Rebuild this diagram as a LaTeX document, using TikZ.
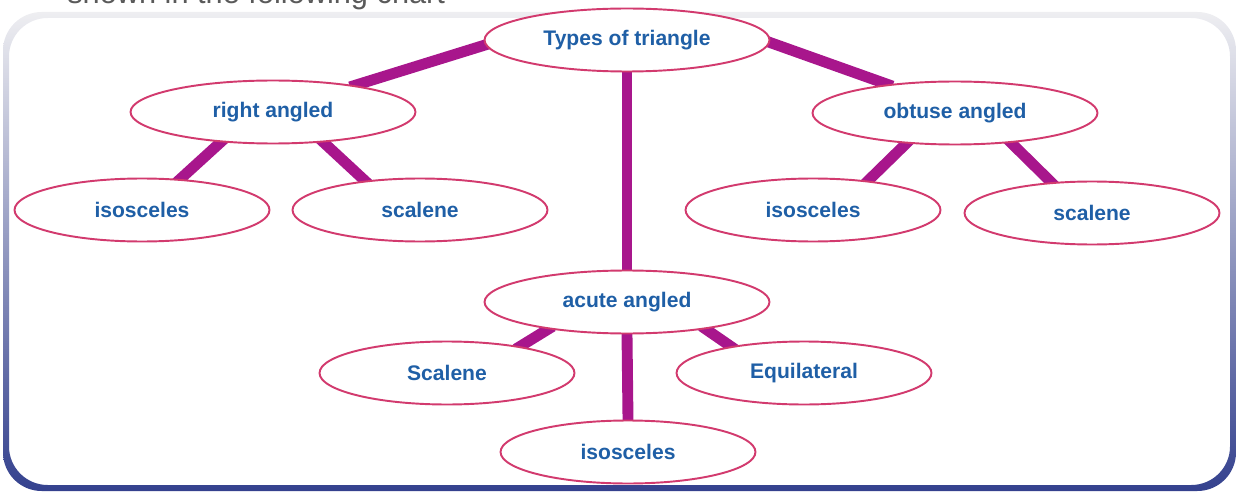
\documentclass[tikz,border=0pt]{standalone}
\usepackage{fontspec}
\setmainfont{Liberation Sans}
\usetikzlibrary{shapes.geometric,backgrounds}
\definecolor{trblue}{HTML}{1F5FA6}
\definecolor{trpink}{HTML}{D23A6E}
\definecolor{trlink}{HTML}{A8168C}
\definecolor{trgrey}{HTML}{EEEEF1}
\definecolor{trlav}{HTML}{BDBBD8}
\definecolor{trnavy}{HTML}{34418E}
\definecolor{trhead}{HTML}{5A5A5A}
\tikzset{
  oval/.style={ellipse, draw=trpink, fill=white, line width=1.1pt, text=trblue,
               font=\fontsize{12}{14}\selectfont\bfseries, inner sep=1pt},
  big/.style={oval, minimum width=5.7cm, minimum height=1.26cm},
  small/.style={oval, minimum width=5.1cm, minimum height=1.26cm},
  link/.style={draw=trlink, line width=6.2pt, shorten <=-3pt, shorten >=-3pt},
}

\begin{document}
\begin{tikzpicture}[x=0.02cm, y=-0.02cm]
  \useasboundingbox (0,0) rectangle (1239,493);

  % frame and cut-off heading
  \shade[top color=trgrey, middle color=trlav, bottom color=trnavy, even odd rule,
         rounded corners=22pt]
    (3,12) rectangle (1236,491) (9,18) rectangle (1230,485);
  \begin{scope}
    \clip (0,0) rectangle (1239,493);
    \node[anchor=base west, inner sep=0pt, text=trhead,
          font=\fontsize{17.5}{20}\selectfont] (hdr) at (67,4)
      {shown in the following chart};
  \end{scope}

  \node[big] (top) at (627,40) {Types of triangle};
  \node[big] (ra) at (273,112) {right angled};
  \node[big] (ob) at (955,113) {obtuse angled};
  \node[big] (ac) at (627,302) {acute angled};

  \node[small] (ra1) at (142,210) {isosceles};
  \node[small] (ra2) at (420,210) {scalene};
  \node[small] (ob1) at (813,210) {isosceles};
  \node[small] (ob2) at (1092,213) {scalene};
  \node[small] (ac1) at (447,373) {Scalene};
  \node[small] (ac2) at (804,373) {Equilateral};
  \node[small] (ac3) at (628,452) {isosceles};

  \begin{pgfonlayer}{background}
    \draw[link] (top.182) -- (ra.18);
    \draw[link] (top.359) -- (ob.157);
    \draw[link] (top.south) -- (ac.north);
    \draw[link] (ra.210) -- (ra1.39);
    \draw[link] (ra.329) -- (ra2.152);
    \draw[link] (ob.212) -- (ob1.28);
    \draw[link] (ob.332) -- (ob2.143);
    \draw[link] (ac.199) -- (ac1.20);
    \draw[link] (ac.341) -- (ac2.160);
    \draw[link] (ac.south) -- (ac3.north);
  \end{pgfonlayer}
\end{tikzpicture}
\end{document}
